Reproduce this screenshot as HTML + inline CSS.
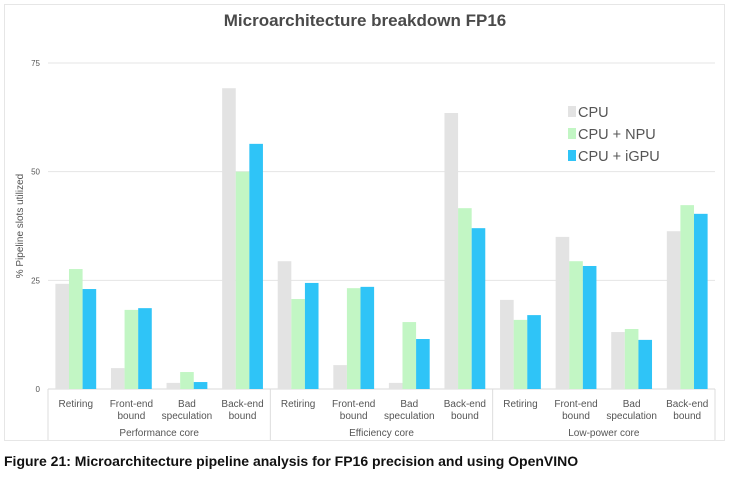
<!DOCTYPE html>
<html><head><meta charset="utf-8"><style>
body{margin:0;width:731px;height:473px;background:#fff;font-family:"Liberation Sans",sans-serif;overflow:hidden}
svg text{font-family:"Liberation Sans",sans-serif}
</style></head><body>
<svg id="c" width="731" height="473"></svg>
<script>
const groups=["Performance core","Efficiency core","Low-power core"];
const categories=[["Retiring"],["Front-end","bound"],["Bad","speculation"],["Back-end","bound"]];
const seriesNames=["CPU","CPU + NPU","CPU + iGPU"];
const cpu=[24.2,4.8,1.4,69.2,29.4,5.5,1.4,63.5,20.5,35,13.1,36.3];
const npu=[27.6,18.2,3.9,50,20.7,23.2,15.4,41.6,15.9,29.4,13.8,42.3];
const igpu=[23,18.6,1.6,56.4,24.4,23.5,11.5,37,17,28.3,11.3,40.3];
const ticks=[0,25,50,75];
const colors=["#e3e3e3","#c2f6c4","#2fc4f7"];
const NS="http://www.w3.org/2000/svg";
const svg=document.getElementById('c');
function el(t,a,p){const e=document.createElementNS(NS,t);for(const k in a)e.setAttribute(k,a[k]);(p||svg).appendChild(e);return e;}
const X0=48,X1=715,Y0=389,Y75=63;
const y=v=>Y0-(v/75)*(Y0-Y75);
const nCat=groups.length*categories.length;
const cw=(X1-X0)/nCat;
const x=i=>X0+i*cw;
let e=el('rect',{x:4.5,y:4.5,width:720,height:436,fill:'#fff',stroke:'#e6e6e6'});

e=el('text',{x:365,y:26,'text-anchor':'middle','font-size':17,'font-weight':'bold',fill:'#4a4a4a'});e.textContent='Microarchitecture breakdown FP16';

ticks.forEach(t=>{
 if(t>0){const g=el('line',{x1:X0,x2:X1,y1:y(t),y2:y(t),stroke:'#e4e4e4'});}
 const l=el('text',{x:40,y:y(t)+3,'text-anchor':'end','font-size':8,fill:'#555'});l.textContent=t;
 
});
e=el('text',{transform:'translate(23,226) rotate(-90)','text-anchor':'middle','font-size':10,fill:'#555'});e.textContent='% Pipeline slots utilized';

e=el('line',{x1:X0,x2:X1,y1:Y0,y2:Y0,stroke:'#d8d8d8'});
const series=[cpu,npu,igpu];
const bw=13.6;
series.forEach((s,si)=>s.forEach((v,i)=>{
 const cx=x(i)+cw/2;
 const b=el('rect',{x:cx-1.5*bw+si*bw,y:y(v),width:bw,height:Y0-y(v),fill:colors[si]});
 
 
}));
for(let i=0;i<nCat;i++){
 const c=categories[i%categories.length];const cx=x(i)+cw/2;
 c.forEach((ln,k)=>{const t=el('text',{x:cx,y:407+k*12,'text-anchor':'middle','font-size':10,fill:'#555'});t.textContent=ln;
 });
}
for(let g=0;g<=groups.length;g++){
 const gx=x(g*categories.length);
 const s=el('line',{x1:gx,x2:gx,y1:Y0,y2:440,stroke:'#ddd'});
 if(g<groups.length){const t=el('text',{x:gx+cw*categories.length/2,y:436,'text-anchor':'middle','font-size':10,fill:'#555'});t.textContent=groups[g];
 }
}
seriesNames.forEach((n,i)=>{
 const r=el('rect',{x:568,y:106+i*22,width:8,height:11,fill:colors[i]});
 const t=el('text',{x:578,y:117+i*22,'font-size':14.5,fill:'#555'});t.textContent=n;
});
e=el('text',{x:4,y:466,'font-size':14,'font-weight':'bold',fill:'#111'});e.textContent='Figure 21: Microarchitecture pipeline analysis for FP16 precision and using OpenVINO';

</script>
</body></html>
